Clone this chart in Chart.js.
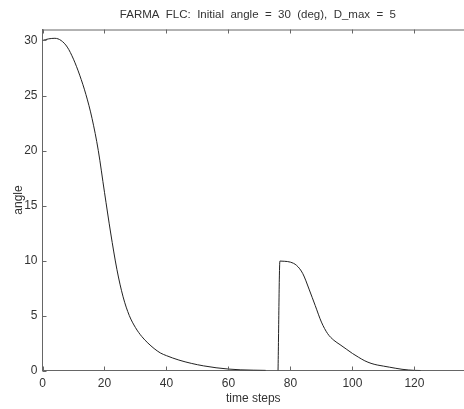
<!DOCTYPE html>
<html>
<head>
<meta charset="utf-8">
<script src="https://cdn.jsdelivr.net/npm/chart.js@4"></script>
<style>
  html,body{margin:0;padding:0;background:#fff;overflow:hidden}
  #wrap{width:464px;height:409px;position:relative}
</style>
</head>
<body>
<div id="wrap"><canvas id="c" width="464" height="409"></canvas></div>
<script>
// first run (initial angle 30)
const time1  = [0, 2, 4, 6, 8, 10, 12, 14, 16, 18, 20, 22, 24, 26, 28, 30, 32, 34, 36, 38, 40, 44, 48, 52, 56, 60, 64, 68, 72];
const angle1 = [30.0, 30.15, 30.2, 30.0, 29.4, 28.3, 26.85, 25.1, 22.9, 20.0, 16.2, 12.5, 9.2, 6.7, 5.0, 3.9, 3.1, 2.5, 2.0, 1.6, 1.35, 0.95, 0.65, 0.42, 0.25, 0.13, 0.06, 0.03, 0.01];
// second run (kicked to 10)
const time2  = [76, 76.6, 78, 80, 82, 84, 86, 88, 90, 92, 94, 96, 98, 100, 102, 104, 106, 108, 110, 112, 114, 116, 118, 120, 122];
const angle2 = [0, 9.95, 9.93, 9.85, 9.55, 8.8, 7.4, 5.9, 4.4, 3.35, 2.75, 2.35, 1.95, 1.55, 1.2, 0.88, 0.65, 0.5, 0.4, 0.3, 0.2, 0.11, 0.05, 0.01, 0.0];

const xTicks = [0, 20, 40, 60, 80, 100, 120];
const yTicks = [0, 5, 10, 15, 20, 25, 30];
const titleText = 'FARMA  FLC:  Initial  angle  =  30  (deg),  D_max  =  5';

const FONT = 'Arial, "Liberation Sans", Helvetica, sans-serif';
const AXIS = '#666';
const TXT = '#333';

const pts = (xs, ys) => xs.map((x, i) => ({x, y: ys[i]}));

// matlab style: inward ticks, top box line, title centred on the full axes box
const boxTicks = {
  id: 'boxTicks',
  afterDatasetsDraw(ch){
    const {ctx, chartArea: a, scales: {x, y}} = ch;
    ctx.save();
    ctx.strokeStyle = AXIS;
    ctx.lineWidth = 1;
    ctx.beginPath();
    ctx.moveTo(a.left, a.top + 0.5); ctx.lineTo(a.right, a.top + 0.5);
    xTicks.forEach(v => {
      const px = Math.round(x.getPixelForValue(v)) + 0.5;
      ctx.moveTo(px, a.bottom); ctx.lineTo(px, a.bottom - 4);
      ctx.moveTo(px, a.top); ctx.lineTo(px, a.top + 4);
    });
    yTicks.forEach(v => {
      const py = Math.round(y.getPixelForValue(v)) + 0.5;
      ctx.moveTo(a.left, py); ctx.lineTo(a.left + 4, py);
    });
    ctx.stroke();
    ctx.fillStyle = TXT;
    ctx.font = '11.5px ' + FONT;
    ctx.textAlign = 'center';
    ctx.textBaseline = 'middle';
    ctx.fillText(titleText, x.getPixelForValue(69.5), 15);
    ctx.restore();
  }
};

new Chart(document.getElementById('c'), {
  type: 'line',
  data: {
    datasets: [
      {data: pts(time1, angle1), borderColor: '#222', borderWidth: 1, pointRadius: 0, cubicInterpolationMode: 'monotone', fill: false},
      {data: pts(time2, angle2), borderColor: '#222', borderWidth: 1, pointRadius: 0, cubicInterpolationMode: 'monotone', fill: false}
    ]
  },
  options: {
    responsive: false,
    animation: false,
    layout: {padding: {top: 29.5}},
    plugins: {
      legend: {display: false},
      tooltip: {enabled: false},
      title: {display: false}
    },
    scales: {
      x: {
        type: 'linear', min: 0, max: 136,
        afterBuildTicks: s => { s.ticks = xTicks.map(v => ({value: v})); },
        afterFit: s => { s.height = 38.5; },
        grid: {display: false, drawTicks: false},
        border: {display: true, color: AXIS, width: 1},
        ticks: {color: TXT, font: {family: FONT, size: 12}, padding: 6, maxRotation: 0},
        title: {display: true, text: 'time steps', color: TXT, font: {family: FONT, size: 12}, padding: {top: 0, bottom: 3}}
      },
      y: {
        type: 'linear', min: 0, max: 31,
        afterBuildTicks: s => { s.ticks = yTicks.map(v => ({value: v})); },
        afterFit: s => { s.width = 42.5; },
        grid: {display: false, drawTicks: false},
        border: {display: true, color: AXIS, width: 1},
        ticks: {color: TXT, font: {family: FONT, size: 12}, padding: 5},
        title: {display: true, text: 'angle', color: TXT, font: {family: FONT, size: 12}, padding: {top: 11, bottom: 0}}
      }
    }
  },
  plugins: [boxTicks]
});
</script>
</body>
</html>
